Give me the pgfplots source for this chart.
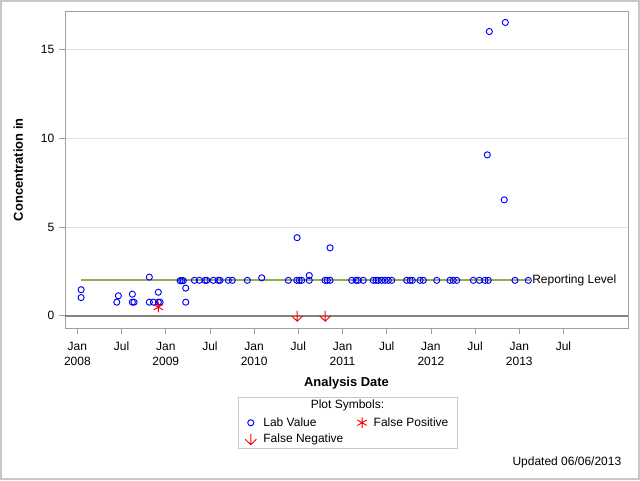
\documentclass[border=0pt]{standalone}
\usepackage{pgfplots}
\pgfplotsset{compat=1.18}
\usepackage{fontspec}
\setmainfont{Liberation Sans}
\definecolor{reflev}{RGB}{150,172,84}
\definecolor{framegray}{RGB}{160,160,160}
\pgfdeclareplotmark{downarrow}{%
  \pgfpathmoveto{\pgfqpoint{0pt}{4pt}}%
  \pgfpathlineto{\pgfqpoint{0pt}{-4pt}}%
  \pgfpathmoveto{\pgfqpoint{-4.2pt}{0pt}}%
  \pgfpathlineto{\pgfqpoint{0pt}{-4pt}}%
  \pgfpathlineto{\pgfqpoint{4.2pt}{0pt}}%
  \pgfusepathqstroke}
\newcommand{\PX}[2]{({(#1-65)*0.75pt},{(328.3-#2)*0.75pt})}
\begin{document}
\begin{tikzpicture}
\useasboundingbox \PX{0}{0} rectangle \PX{640}{480};
\draw[color={rgb,255:red,200;green,200;blue,200}, line width=1.5pt] \PX{0.9}{0.9} rectangle \PX{639.1}{479.1};
\begin{axis}[
  scale only axis,
  width=422.25pt, height=237.9pt,
  xmin=2007.86, xmax=2014.23,
  ymin=-0.70, ymax=17.15,
  axis line style={framegray},
  tick style={framegray, line width=0.6pt},
  major tick length=4.5pt,
  tick align=outside,
  xtick pos=bottom, ytick pos=left,
  xtick={2008,2008.5,2009,2009.5,2010,2010.5,2011,2011.5,2012,2012.5,2013,2013.5},
  xticklabels={{Jan\\2008},Jul,{Jan\\2009},Jul,{Jan\\2010},Jul,{Jan\\2011},Jul,{Jan\\2012},Jul,{Jan\\2013},Jul},
  xticklabel style={align=center, font=\fontsize{9}{11.5}\selectfont, anchor=north, yshift=-2.4pt},
  ytick={0,5,10,15},
  yticklabel style={font=\fontsize{9}{11}\selectfont},
  /pgf/number format/assume math mode=true,
  ymajorgrids, grid style={color={rgb,255:red,225;green,225;blue,225}, line width=0.6pt},
  xlabel={Analysis Date},
  ylabel={Concentration in},
  label style={font=\fontsize{9.7}{12}\selectfont\bfseries},
  xlabel style={at={(axis description cs:0.5,-0.174)}, anchor=center},
  ylabel style={at={(axis description cs:-0.083,0.5)}, anchor=center},
  legend columns=2,
  legend cell align=left,
  legend style={draw=none, fill=none, font=\fontsize{9}{11}\selectfont,
    at={(axis description cs:0.3196,-0.2747)}, anchor=north west,
    /tikz/every odd column/.append style={column sep=3.75pt},
    /tikz/every even column/.append style={column sep=9pt},
    nodes={inner sep=1.5pt, text depth=0.2ex},
    row sep=1.8pt, inner sep=0pt},
  clip=false,
]
\addplot[forget plot, color={rgb,255:red,130;green,130;blue,130}, line width=1.6pt] coordinates {(2007.86,0) (2014.23,0)};
\addplot[forget plot, reflev, line width=1.6pt] coordinates {(2008.04,2) (2013.12,2)}
  node[pos=1, anchor=west, black, font=\fontsize{9}{11}\selectfont, inner sep=1pt] {Reporting Level};
\addplot[only marks, mark=o, blue, mark size=2.3pt, line width=0.7pt] coordinates {
(2008.042,1.47) (2008.042,1.03)
(2008.446,0.77) (2008.464,1.13)
(2008.622,1.22) (2008.622,0.77) (2008.641,0.77)
(2008.814,2.18) (2008.814,0.77) (2008.860,0.77) (2008.916,0.77) (2008.936,0.77)
(2008.916,1.33)
(2009.162,1.98) (2009.181,1.98) (2009.199,1.98)
(2009.226,1.56) (2009.226,0.77)
(2009.324,2.0) (2009.380,2.0) (2009.445,2.0) (2009.464,2.0) (2009.538,2.0)
(2009.595,2.0) (2009.614,2.0) (2009.708,2.0) (2009.753,2.0) (2009.923,2.0)
(2010.086,2.14)
(2010.387,2.0) (2010.482,2.0) (2010.511,2.0) (2010.538,2.0) (2010.624,2.0)
(2010.624,2.27) (2010.486,4.40) (2010.859,3.83)
(2010.802,2.0) (2010.828,2.0) (2010.859,2.0)
(2011.104,2.0) (2011.153,2.0) (2011.179,2.0) (2011.235,2.0)
(2011.348,2.0) (2011.379,2.0) (2011.405,2.0) (2011.443,2.0) (2011.481,2.0)
(2011.518,2.0) (2011.557,2.0)
(2011.726,2.0) (2011.764,2.0) (2011.790,2.0) (2011.877,2.0) (2011.914,2.0)
(2012.066,2.0) (2012.216,2.0) (2012.253,2.0) (2012.292,2.0)
(2012.480,2.0) (2012.548,2.0) (2012.612,2.0) (2012.649,2.0)
(2012.951,2.0) (2013.102,2.0)
(2012.842,16.51) (2012.661,16.0) (2012.638,9.06) (2012.830,6.53)
};
\addlegendentry{Lab Value}
\addplot[only marks, mark=asterisk, red, mark size=4pt, line width=0.7pt] coordinates {(2008.916,0.49)};
\addlegendentry{False Positive}
\addplot[only marks, mark=downarrow, red, line width=0.7pt] coordinates {(2010.487,0) (2010.804,0)};
\addlegendentry{False Negative}
\end{axis}
\draw[color={rgb,255:red,200;green,200;blue,200}, line width=0.75pt] \PX{238}{397} rectangle \PX{457}{448};
\node[font=\fontsize{9}{11}\selectfont] at \PX{347.5}{405.5} {Plot Symbols:};
\node[font=\fontsize{9}{11}\selectfont, anchor=east] at \PX{626}{462} {Updated 06/06/2013};
\end{tikzpicture}
\end{document}
